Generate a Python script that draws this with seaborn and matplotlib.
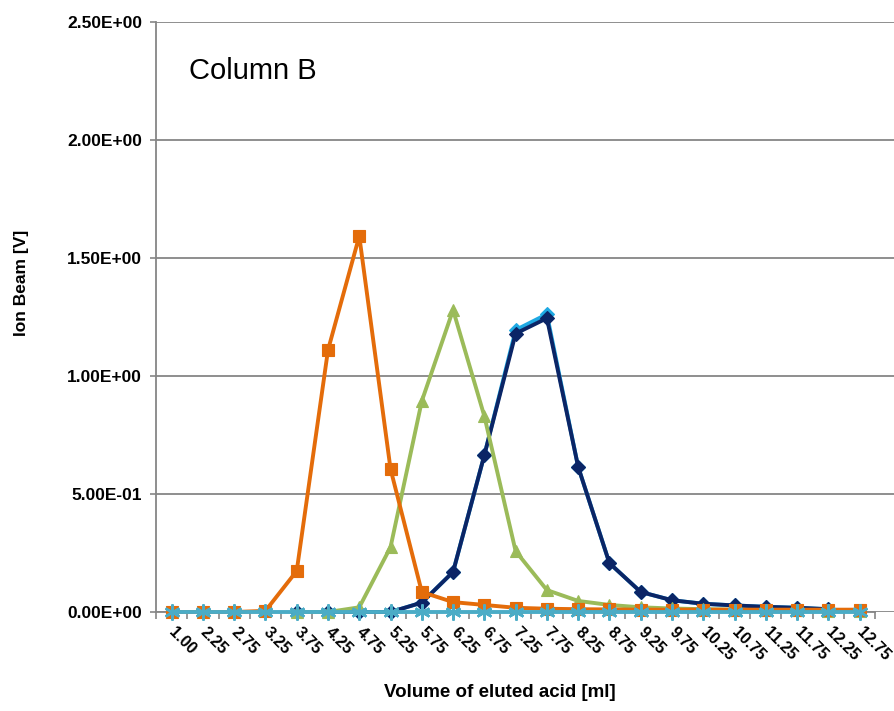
import numpy as np
import pandas as pd
import matplotlib
matplotlib.use("Agg")
import matplotlib.pyplot as plt
from matplotlib.ticker import FuncFormatter, FixedLocator
import seaborn as sns

categories = ["1.00", "2.25", "2.75", "3.25", "3.75", "4.25", "4.75", "5.25", "5.75",
              "6.25", "6.75", "7.25", "7.75", "8.25", "8.75", "9.25", "9.75", "10.25",
              "10.75", "11.25", "11.75", "12.25", "12.75"]

orange = [0.0, 0.0, 0.0, 0.005, 0.174, 1.11, 1.593, 0.606, 0.085, 0.042, 0.030, 0.018,
          0.014, 0.012, 0.011, 0.010, 0.010, 0.010, 0.010, 0.010, 0.010, 0.010, 0.010]
green = [np.nan, np.nan, np.nan, np.nan, 0.0, 0.0, 0.020, 0.275, 0.894, 1.28, 0.83, 0.258,
         0.093, 0.047, 0.030, 0.020, 0.015, 0.012, 0.010, 0.008, 0.007, 0.006, 0.005]
navy = [np.nan, np.nan, np.nan, np.nan, 0.0, 0.0, 0.0, 0.0, 0.040, 0.170, 0.665, 1.18,
        1.245, 0.615, 0.207, 0.085, 0.050, 0.035, 0.028, 0.022, 0.018, 0.012, np.nan]
lightblue = [np.nan, np.nan, np.nan, np.nan, 0.0, 0.0, 0.0, 0.0, 0.040, 0.170, 0.665, 1.195,
             1.262, 0.615, 0.207, 0.085, 0.050, 0.035, 0.028, 0.022, 0.018, 0.012, np.nan]
teal = [0.0] * len(categories)

yticks = [0.0, 0.5, 1.0, 1.5, 2.0, 2.5]

sns.set_style("white")
plt.rcParams['font.family'] = ['Liberation Sans', 'DejaVu Sans']
plt.rcParams['text.color'] = 'black'
plt.rcParams['axes.labelcolor'] = 'black'
plt.rcParams['xtick.labelcolor'] = 'black'
plt.rcParams['ytick.labelcolor'] = 'black'

fig = plt.figure(figsize=(8.95, 7.11), dpi=100)
ax = fig.add_axes([0.1743, 0.1392, 0.8246, 0.8298])

pos = np.arange(len(categories))
grid_c = "#868686"

series = [
    (lightblue, "#1FA9E3", "D", 7.5, 3),
    (navy, "#0B2566", "D", 7.5, 4),
    (green, "#9BBB59", "^", 9, 5),
    (orange, "#E46C0A", "s", 9, 6),
    (teal, "#4BACC6", (6, 2, 0), 11.5, 7),
]
for vals, col, mk, ms, z in series:
    df = pd.DataFrame({"x": pos, "y": vals}).dropna()
    sns.lineplot(data=df, x="x", y="y", ax=ax, color=col, linewidth=2.8,
                 marker=mk, markersize=ms, markeredgecolor=col,
                 markeredgewidth=1.8 if isinstance(mk, tuple) else 0.8,
                 zorder=z, clip_on=False)

ax.set_xlim(-0.5, 23.1)
ax.set_ylim(0, 2.5)
ax.set_yticks(yticks)
ax.yaxis.set_major_formatter(FuncFormatter(lambda v, p: f"{v:.2E}"))
ax.yaxis.grid(True, color=grid_c, linewidth=1.3)
ax.set_axisbelow(True)

ax.xaxis.set_major_locator(FixedLocator(pos))
ax.set_xticklabels(categories, rotation=-45, ha="left", va="center",
                   rotation_mode="anchor", fontsize=11.5, fontweight="bold")
ax.xaxis.set_minor_locator(FixedLocator(np.arange(-0.5, len(categories), 1.0)))
ax.tick_params(axis="x", which="both", direction="out", length=5, width=1.2,
               color=grid_c, pad=8, bottom=True)
ax.tick_params(axis="y", direction="out", length=4, width=1.2, color=grid_c,
               pad=6, left=True, labelsize=12.5)
for lab in ax.get_yticklabels():
    lab.set_fontweight("bold")

for s in ["top", "right"]:
    ax.spines[s].set_visible(False)
ax.spines["left"].set_color(grid_c)
ax.spines["left"].set_linewidth(1.3)
ax.spines["bottom"].set_color(grid_c)
ax.spines["bottom"].set_linewidth(1.3)
ax.spines["bottom"].set_bounds(-0.5, 22.5)

ax.set_xlabel("Volume of eluted acid [ml]", fontsize=13.5, fontweight="bold")
ax.xaxis.set_label_coords(0.466, -0.136)
ax.xaxis.label.set_va("center")
ax.set_ylabel("Ion Beam [V]", fontsize=12.5, fontweight="bold")
ax.yaxis.set_label_coords(-0.172, 0.558)

ax.text(0.045, 0.917, "Column B", transform=ax.transAxes, fontsize=21,
        ha="left", va="center", color="black")

fig.savefig("out.png", dpi=100)
